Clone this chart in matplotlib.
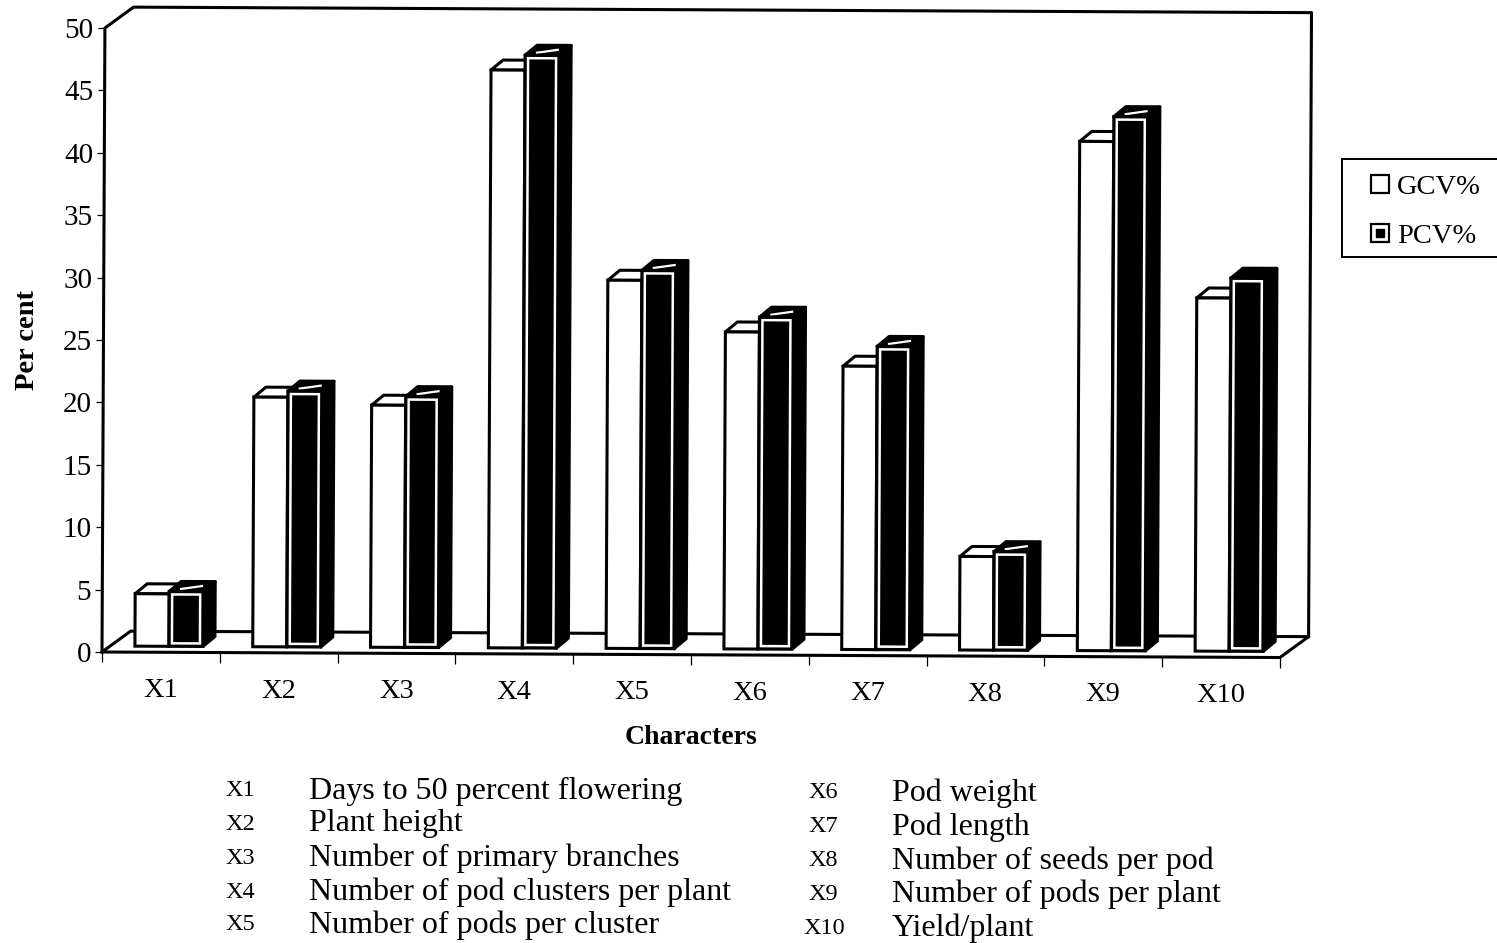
import matplotlib
matplotlib.use("Agg")
import matplotlib.pyplot as plt
from matplotlib.legend_handler import HandlerTuple
from matplotlib.lines import Line2D
from matplotlib.patches import Polygon, Rectangle
from matplotlib.transforms import Affine2D

# Genotypic and phenotypic coefficients of variation per character
categories = ["X1", "X2", "X3", "X4", "X5", "X6", "X7", "X8", "X9", "X10"]
gcv = [4.2, 20.0, 19.4, 46.3, 29.5, 25.4, 22.7, 7.5, 40.8, 28.3]
pcv = [4.4, 20.5, 20.1, 47.5, 30.3, 26.6, 24.3, 7.9, 42.8, 29.9]
y_ticks = list(range(0, 55, 5))

key_codes_left = ["X1", "X2", "X3", "X4", "X5"]
key_names_left = ["Days to 50 percent flowering", "Plant height",
                  "Number of primary branches", "Number of pod clusters per plant",
                  "Number of pods per cluster"]
key_codes_right = ["X6", "X7", "X8", "X9", "X10"]
key_names_right = ["Pod weight", "Pod length", "Number of seeds per pod",
                   "Number of pods per plant", "Yield/plant"]

W, H = 1497, 943
plt.rcParams["font.family"] = ["Liberation Serif", "DejaVu Serif"]

fig = plt.figure(figsize=(W / 100, H / 100), dpi=100, facecolor="white")
ax = fig.add_axes([102 / W, 291 / H, 1178 / W, 624 / H])
ax.set_xlim(0, len(categories))
ax.set_ylim(0, 50)
for spine in ax.spines.values():
    spine.set_visible(False)
ax.patch.set_visible(False)

# The whole plot sits on a very slight clockwise slope
tilt = Affine2D().rotate_deg_around(102, 291, -0.268)
tilted = ax.transData + tilt

# Oblique depth of the chart box and of the bars, in data units
BOX_DX, BOX_DY = 28.5 / 117.8, 21 / 12.48
FRONT_DX, FRONT_DY = 8 / 117.8, 6 / 12.48
BAR_DX, BAR_DY = 12 / 117.8, 10 / 12.48
BAR_W = 34 / 117.8
LW = 2.2


def frame(xs, ys, zorder=1):
    ax.plot(xs, ys, color="black", lw=LW, transform=tilted, clip_on=False,
            zorder=zorder, solid_capstyle="projecting")


n = len(categories)
frame([0, 0, BOX_DX, n + BOX_DX, n + BOX_DX, n, 0, BOX_DX, n + BOX_DX],
      [0, 50, 50 + BOX_DY, 50 + BOX_DY, BOX_DY, 0, 0, BOX_DY, BOX_DY])


def face(points, color, zorder):
    ax.add_patch(Polygon(points, closed=True, facecolor=color, edgecolor="black",
                         lw=LW, joinstyle="round", transform=tilted,
                         clip_on=False, zorder=zorder))


for i, (g, p) in enumerate(zip(gcv, pcv)):
    z = 3 + i * 0.1
    xg = i + 0.5 - BAR_W + FRONT_DX
    xp = i + 0.5 + FRONT_DX
    ytop_g = g + FRONT_DY
    ytop_p = p + FRONT_DY

    # Open bar: top face, then front face
    face([(xg, ytop_g), (xg + BAR_DX, ytop_g + BAR_DY),
          (xg + BAR_W + BAR_DX, ytop_g + BAR_DY), (xg + BAR_W, ytop_g)], "white", z)
    bar = ax.bar(xg, g, BAR_W, bottom=FRONT_DY, align="edge", facecolor="white",
                 edgecolor="black", lw=LW, zorder=z + 0.01, clip_on=False)[0]
    bar.set_transform(tilted)

    # Solid bar: side and top faces, then front face with its pale inner outline
    face([(xp + BAR_W, FRONT_DY), (xp + BAR_W + BAR_DX, FRONT_DY + BAR_DY),
          (xp + BAR_W + BAR_DX, ytop_p + BAR_DY), (xp + BAR_W, ytop_p)], "black", z + 0.02)
    face([(xp, ytop_p), (xp + BAR_DX, ytop_p + BAR_DY),
          (xp + BAR_W + BAR_DX, ytop_p + BAR_DY), (xp + BAR_W, ytop_p)], "black", z + 0.02)
    if categories[i] != "X10":
        ax.plot([xp + BAR_W * 0.35, xp + BAR_W * 0.75 + BAR_DX * 0.6],
                [ytop_p + BAR_DY * 0.25, ytop_p + BAR_DY * 0.55],
                color="white", lw=1.6, transform=tilted, clip_on=False, zorder=z + 0.03)
    bar = ax.bar(xp, p, BAR_W, bottom=FRONT_DY, align="edge", facecolor="black",
                 edgecolor="black", lw=LW, zorder=z + 0.03, clip_on=False)[0]
    bar.set_transform(tilted)
    inset_x, inset_y = 3.0 / 117.8, 3.0 / 12.48
    ax.add_patch(Rectangle((xp + inset_x, FRONT_DY + inset_y),
                           BAR_W - 2 * inset_x, p - 2 * inset_y,
                           facecolor="black", edgecolor="white", lw=1.8,
                           transform=tilted, clip_on=False, zorder=z + 0.04))

# Axis ticks: boundaries on the major ticks, category names on the minor ones
ax.set_xticks(range(n + 1))
ax.set_xticklabels([])
ax.set_xticks([i + 0.5 for i in range(n)], minor=True)
ax.set_xticklabels(categories, minor=True, fontsize=20.5)
ax.set_yticks(y_ticks)
ax.tick_params(axis="x", which="major", length=7.5, width=0.9, direction="out")
ax.tick_params(axis="x", which="minor", length=0, pad=18.5)
ax.tick_params(axis="y", which="major", length=5, width=0.9, pad=3, labelsize=21)
ticks = (ax.xaxis.get_major_ticks() + ax.xaxis.get_minor_ticks()
         + ax.yaxis.get_major_ticks())
for tick in ticks:
    tick.tick1line.set_transform(tick.tick1line.get_transform() + tilt)
    tick.label1.set_transform(tick.label1.get_transform() + tilt)

ax.set_xlabel("Characters", fontsize=20, fontweight="bold")
ax.xaxis.set_label_coords(0.5, ((H - 750) - 291) / 624)
ax.xaxis.label.set_va("bottom")
ax.set_ylabel("Per cent", fontsize=20.5, fontweight="bold")
ax.yaxis.set_label_coords((28 - 102) / 1178, (943 - 340 - 291) / 624)
ax.yaxis.label.set_va("center")

# Legend box runs off the right edge of the figure
fig.add_artist(Rectangle((1342 / W, 1 - 257 / H), 170 / W, 98 / H, transform=fig.transFigure,
                         facecolor="white", edgecolor="black", lw=1.4, zorder=5))
handle_g = Line2D([], [], ls="", marker="s", ms=12.5, mfc="white", mec="black", mew=1.6)
handle_p_out = Line2D([], [], ls="", marker="s", ms=12.5, mfc="white", mec="black", mew=1.6)
handle_p_in = Line2D([], [], ls="", marker="s", ms=6, mfc="black", mec="black")
legend = fig.legend([handle_g, (handle_p_out, handle_p_in)], ["GCV%", "PCV%"],
                    handler_map={tuple: HandlerTuple(ndivide=1, pad=0)},
                    loc="upper left", bbox_to_anchor=(1366 / W, 1 - 174 / H),
                    frameon=False, fontsize=20.5, borderpad=0, borderaxespad=0,
                    handlelength=0.98, handletextpad=0.12, labelspacing=0.82)
legend.set_zorder(6)

# Key to the character codes below the plot
left_rows = [791, 824, 858, 892, 925]
right_rows = [793, 827, 861, 894, 928]
for codes, names, rows, code_x, name_x in (
        (key_codes_left, key_names_left, left_rows, 225, 309),
        (key_codes_right, key_names_right, right_rows, 808, 892)):
    for code, name, row in zip(codes, names, rows):
        x = code_x - 5 if code == "X10" else code_x
        fig.text(x / W, 1 - row / H, code, fontsize=17.5, va="center", ha="left")
        fig.text(name_x / W, 1 - row / H, name, fontsize=23, va="center", ha="left")

fig.savefig("out.png", dpi=100, facecolor="white")
